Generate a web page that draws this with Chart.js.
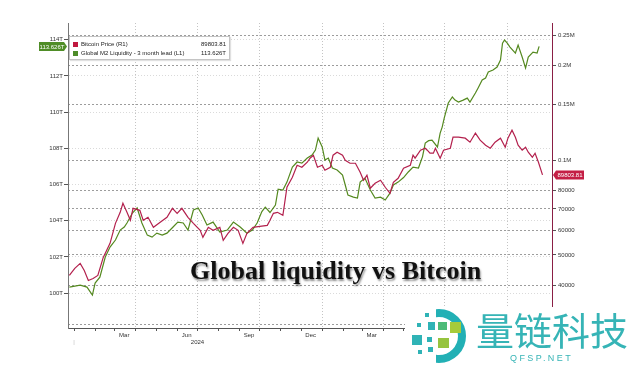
<!DOCTYPE html>
<html>
<head>
<meta charset="utf-8">
<script src="https://cdn.jsdelivr.net/npm/chart.js@4.4.1/dist/chart.umd.min.js"></script>
<style>
  body { margin: 0; background: #fff; }
  #wrap { position: relative; width: 630px; height: 368px; overflow: hidden; font-family: "Liberation Sans", Arial, sans-serif; }
  #chart { position: absolute; left: 0; top: 0; }
  .legend { position: absolute; left: 69px; top: 36px; width: 159px; height: 22px; border: 1px solid #c4c4c4; background: #fff;
            box-shadow: 1px 1px 1px rgba(0,0,0,0.12); font-size: 6px; color: #222; }
  .legend .row { position: absolute; left: 3px; right: 3px; height: 8px; line-height: 8px; white-space: nowrap; }
  .legend .sw { display: inline-block; width: 5px; height: 5px; margin-right: 3px; vertical-align: -0.5px; }
  .legend .val { position: absolute; right: 0; top: 0; }
  .title { position: absolute; left: 190px; top: 256px; font: bold 26px "Liberation Serif", serif; color: #111; white-space: nowrap;
           text-shadow: 1px 2px 2px rgba(0,0,0,0.45); }
  .mark { position: absolute; left: 405px; top: 307px; width: 225px; height: 61px; background: #fff; }
  .mark .sq { position: absolute; }
  .mark .ringClip { position: absolute; left: 31px; top: 0; width: 40px; height: 61px; overflow: hidden; }
  .mark .ring { position: absolute; left: -24px; top: 2px; width: 54px; height: 54px; box-sizing: border-box; border-radius: 50%;
                border: 8px solid #22b0b5; }
  .mark .cn { position: absolute; left: 71px; top: 3px; font: 38px/38px "Noto Sans CJK SC", sans-serif; color: #36b4b6; white-space: nowrap; }
  .mark .en { position: absolute; left: 105px; top: 47px; font: 9px/9px "Liberation Sans", sans-serif; letter-spacing: 2.4px; color: #36b4b6; }
</style>
</head>
<body>
<div id="wrap">
  <canvas id="chart" width="630" height="368"></canvas>

  <div class="legend">
    <div class="row" style="top:3px"><span class="sw" style="background:#c0183f"></span>Bitcoin Price (R1)<span class="val" id="btcVal"></span></div>
    <div class="row" style="top:12px"><span class="sw" style="background:#4e8c2a"></span>Global M2 Liquidity - 3 month lead (L1)<span class="val" id="m2Val"></span></div>
  </div>

  <div class="title">Global liquidity vs Bitcoin</div>

  <div class="mark">
    <div class="ringClip"><div class="ring"></div></div>
    <div class="sq" style="left:20px;top:6px;width:4px;height:4px;background:#2fb3b6"></div>
    <div class="sq" style="left:12px;top:16px;width:4px;height:4px;background:#2fb3b6"></div>
    <div class="sq" style="left:23px;top:15px;width:7px;height:8px;background:#2fb3b6"></div>
    <div class="sq" style="left:33px;top:15px;width:9px;height:8px;background:#4dbb78"></div>
    <div class="sq" style="left:45px;top:15px;width:11px;height:11px;background:#a6cb3a"></div>
    <div class="sq" style="left:7px;top:28px;width:10px;height:10px;background:#2fb3b6"></div>
    <div class="sq" style="left:22px;top:30px;width:5px;height:5px;background:#2fb3b6"></div>
    <div class="sq" style="left:33px;top:31px;width:11px;height:10px;background:#96c43e"></div>
    <div class="sq" style="left:13px;top:43px;width:4px;height:4px;background:#2fb3b6"></div>
    <div class="sq" style="left:23px;top:40px;width:5px;height:5px;background:#2fb3b6"></div>
    <div class="cn">量链科技</div>
    <div class="en">QFSP.NET</div>
  </div>
</div>

<script>
// x values are days since 2024-01-01
const btcDays = [-7, 1, 9, 15, 21, 28, 35, 43, 53, 61, 68, 72, 78, 83, 87, 97, 102, 109, 117, 127,
  137, 145, 152, 159, 168, 176, 186, 190, 198, 205, 215, 220, 227, 235, 242, 249, 255, 264, 274, 285,
  289, 294, 300, 308, 314, 322, 329, 336, 344, 348, 353, 359, 366, 370, 378, 382, 388, 396, 400, 407,
  415, 422, 427, 432, 437, 444, 452, 459, 466, 471, 478, 486, 496, 500, 503, 511, 518, 521, 525, 530,
  533, 540, 545, 555, 559, 567, 577, 584, 592, 599, 607, 614, 621, 629, 636, 640, 646, 651, 655, 661,
  666, 670, 676, 680, 685, 691];
const btcPrice = [43040, 45310, 47000, 44640, 41490, 42110, 43040, 49120, 54430, 63020, 68310, 72970, 68310, 64420, 70340, 69320, 64420, 65850, 61200, 63480,
  65850, 70340, 67820, 70340, 65850, 63020, 59870, 56870, 61200, 59870, 61200, 55640, 58560, 61200, 59870, 54430, 58560, 61200, 61650, 62100,
  64420, 67820, 68310, 66820, 82060, 88300, 96420, 95010, 98560, 101500, 103750, 95010, 96420, 92940, 95010, 103750, 106060, 103750, 100010, 97840,
  97840, 91590, 86370, 89600, 81460, 84500, 86370, 82060, 78520, 85120, 87650, 94320, 96420, 103750, 101500, 107620, 109210, 107620, 105280, 105280,
  109210, 101500, 107620, 109210, 118380, 118380, 117520, 114120, 121900, 115810, 111640, 109210, 114120, 117520, 110010, 117520, 124620, 118380, 111640, 107620,
  110010, 106060, 102240, 105280, 98560, 89803.81];

const m2Days = [-7, 9, 19, 27, 31, 38, 46, 53, 61, 68, 74, 78, 86, 93, 100, 108, 115, 122, 130, 137,
  146, 153, 161, 168, 176, 183, 189, 196, 205, 215, 226, 235, 245, 255, 263, 270, 277, 282, 289, 297,
  301, 308, 314, 322, 329, 336, 344, 351, 356, 360, 366, 370, 375, 381, 388, 396, 400, 404, 412, 418,
  422, 429, 437, 444, 452, 459, 466, 471, 478, 486, 493, 500, 508, 514, 518, 523, 528, 536, 540, 543,
  546, 552, 558, 562, 567, 574, 580, 584, 592, 596, 602, 607, 611, 618, 624, 629, 632, 635, 639, 643,
  651, 655, 661, 666, 670, 677, 683, 686];
const m2Liquidity = [100.33, 100.44, 100.33, 99.89, 100.55, 100.88, 101.99, 102.54, 102.93, 103.48, 103.65, 103.87, 104.42, 104.70, 103.87, 103.20, 103.09, 103.31, 103.20, 103.31,
  103.65, 103.92, 103.87, 103.48, 104.59, 104.70, 104.31, 103.76, 103.92, 103.37, 103.48, 103.92, 103.65, 103.31, 103.48, 103.87, 104.50, 104.75, 104.45, 104.86,
  105.74, 105.69, 106.13, 106.96, 107.24, 107.18, 107.46, 107.62, 107.90, 108.56, 108.07, 107.35, 107.46, 106.91, 106.80, 106.52, 105.97, 105.41, 105.30, 105.25,
  106.13, 106.35, 105.69, 105.25, 105.30, 105.14, 105.52, 105.97, 106.13, 106.38, 106.69, 106.96, 106.91, 107.54, 108.29, 108.42, 108.45, 108.07, 108.84, 109.17,
  109.67, 110.50, 110.83, 110.66, 110.55, 110.66, 110.77, 110.55, 111.05, 111.33, 111.77, 111.88, 112.21, 112.32, 112.49, 112.87, 113.81, 113.98, 113.81, 113.59,
  113.26, 113.70, 113.04, 112.43, 113.04, 113.31, 113.26, 113.626];

const leftTicks = [100, 102, 104, 106, 108, 110, 112, 114];
const rightTicks = [30000, 40000, 50000, 60000, 70000, 80000, 100000, 150000, 200000, 250000];
const rightTickLabels = ["", "40000", "50000", "60000", "70000", "80000", "0.1M", "0.15M", "0.2M", "0.25M"];

const monthStartDays = [0, 31, 60, 91, 121, 152, 182, 213, 244, 274, 305, 335,
  366, 397, 425, 456, 486, 517, 547, 578, 609, 639, 670, 700];
const quarterStartDays = [91, 182, 274, 366, 456, 547, 639];
const monthLabelDays = [74, 166, 258, 349, 439, 531, 623];
const monthLabels = ["Mar", "Jun", "Sep", "Dec", "Mar", "Jun", "Sep"];
const yearLabelDays = [0, 182, 547];
const yearLabels = ["|", "2024", "2025"];

const xTickDays = [...monthStartDays, ...monthLabelDays].sort((a, b) => a - b);

document.getElementById("btcVal").textContent = btcPrice[btcPrice.length - 1].toFixed(2);
document.getElementById("m2Val").textContent = m2Liquidity[m2Liquidity.length - 1].toFixed(3) + "T";

const FONT = { family: '"Liberation Sans", Arial, sans-serif', size: 6 };

//========================================================================
const xLabel = v => {
  const i = monthLabelDays.indexOf(v);
  if (i >= 0) {
    return monthLabels[i];
  }
  const j = yearLabelDays.indexOf(v);
  if (j >= 0) {
    return ["", yearLabels[j]];
  }
  return "";
};

//========================================================================
const lastTags = {
  id: "lastTags",
  afterDraw: chart => {
    const { ctx, chartArea: area, scales } = chart;
    const m2Last = m2Liquidity[m2Liquidity.length - 1];
    const btcLast = btcPrice[btcPrice.length - 1];
    const yL = scales.yL.getPixelForValue(m2Last);
    const yR = scales.yR.getPixelForValue(btcLast);

    ctx.save();
    ctx.font = '6px "Liberation Sans", Arial, sans-serif';
    ctx.textBaseline = "middle";
    ctx.textAlign = "center";

    ctx.fillStyle = "#4f8d27";
    ctx.beginPath();
    ctx.moveTo(area.left - 1, yL);
    ctx.lineTo(area.left - 4, yL - 4.5);
    ctx.lineTo(area.left - 29, yL - 4.5);
    ctx.lineTo(area.left - 29, yL + 4.5);
    ctx.lineTo(area.left - 4, yL + 4.5);
    ctx.closePath();
    ctx.fill();
    ctx.fillStyle = "#fff";
    ctx.fillText(m2Last.toFixed(3) + "T", area.left - 16, yL + 0.5);

    ctx.fillStyle = "#c41e45";
    ctx.beginPath();
    ctx.moveTo(area.right + 1, yR);
    ctx.lineTo(area.right + 4, yR - 4.5);
    ctx.lineTo(area.right + 32, yR - 4.5);
    ctx.lineTo(area.right + 32, yR + 4.5);
    ctx.lineTo(area.right + 4, yR + 4.5);
    ctx.closePath();
    ctx.fill();
    ctx.fillStyle = "#fff";
    ctx.fillText(btcLast.toFixed(2), area.right + 18, yR + 0.5);
    ctx.restore();
  }
};

//========================================================================
new Chart(document.getElementById("chart"), {
  type: "line",
  plugins: [lastTags],
  data: {
    datasets: [
      {
        label: "Bitcoin Price (R1)",
        data: btcDays.map((d, i) => ({ x: d, y: btcPrice[i] })),
        yAxisID: "yR",
        borderColor: "#b3204d",
        borderWidth: 1.2,
        pointRadius: 0,
        tension: 0
      },
      {
        label: "Global M2 Liquidity - 3 month lead (L1)",
        data: m2Days.map((d, i) => ({ x: d, y: m2Liquidity[i] })),
        yAxisID: "yL",
        borderColor: "#54891f",
        borderWidth: 1.2,
        pointRadius: 0,
        tension: 0
      }
    ]
  },
  options: {
    responsive: false,
    animation: false,
    devicePixelRatio: 1,
    layout: { padding: { top: 23 } },
    plugins: { legend: { display: false }, tooltip: { enabled: false } },
    scales: {
      x: {
        type: "linear",
        min: -9,
        max: 705,
        afterBuildTicks: s => { s.ticks = xTickDays.map(v => ({ value: v })); },
        afterFit: s => { s.height = 40; },
        grid: {
          color: c => (c.tick && quarterStartDays.includes(c.tick.value)) ? "#c4c4c4" : "rgba(0,0,0,0)",
          tickColor: c => (c.tick && monthLabelDays.includes(c.tick.value)) ? "rgba(0,0,0,0)" : "#555",
          tickLength: 3,
          lineWidth: 1
        },
        border: { color: "#555", width: 1, dash: [1, 2] },
        ticks: {
          autoSkip: false,
          maxRotation: 0,
          padding: 1,
          font: FONT,
          color: c => (c.tick && c.tick.value === 0) ? "#bbb" : "#333",
          callback: v => xLabel(v)
        }
      },
      yL: {
        type: "linear",
        position: "left",
        min: 98.07,
        max: 114.92,
        afterBuildTicks: s => { s.ticks = leftTicks.map(v => ({ value: v })); },
        afterFit: s => { s.width = 68; },
        grid: { color: "#dadada", tickColor: "#555", tickLength: 4 },
        border: { color: "#777", width: 1, dash: [1, 2] },
        ticks: { font: FONT, color: "#333", padding: 1, callback: v => v + "T" }
      },
      yR: {
        type: "logarithmic",
        position: "right",
        min: 29300,
        max: 273000,
        afterBuildTicks: s => { s.ticks = rightTicks.map(v => ({ value: v })); },
        afterFit: s => { s.width = 78; },
        grid: { color: "#9c9c9c", tickColor: "#555", tickLength: 4 },
        border: { color: "#8a1f45", width: 1, dash: [2, 2] },
        ticks: { font: FONT, color: "#333", padding: 2, callback: v => rightTickLabels[rightTicks.indexOf(v)] }
      }
    }
  }
});
</script>
</body>
</html>
